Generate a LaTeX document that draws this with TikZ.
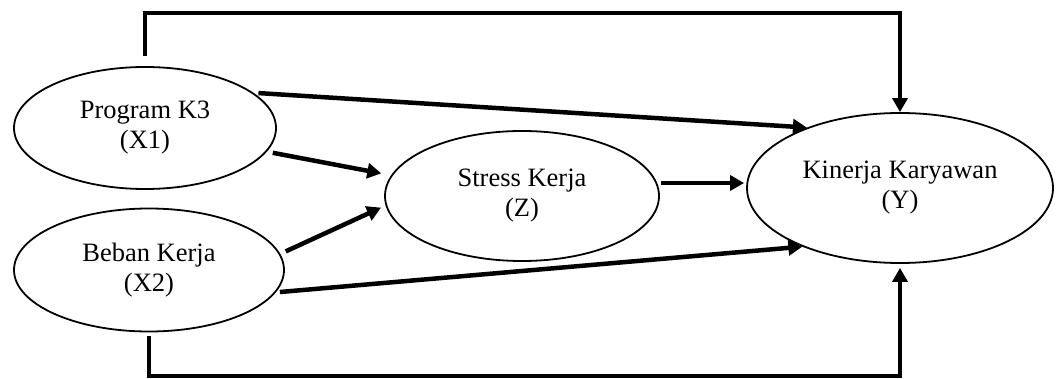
\documentclass[tikz,border=0pt]{standalone}
\usepackage{fontspec}
\setmainfont{Liberation Serif}
\usetikzlibrary{arrows.meta,shapes.geometric}
\begin{document}
\begin{tikzpicture}[x=1pt,y=-1pt,
  var/.style={ellipse,draw,line width=1.8pt,inner sep=0pt,align=center,
    font=\fontsize{26.5}{30}\selectfont},
  conn/.style={line width=4.5pt},
  arr/.style={conn,-{Triangle[length=14pt,width=15pt]}}]
  \useasboundingbox[fill=white] (0,0) rectangle (1057,379);

  % latent variables
  \node[var,minimum width=262pt,minimum height=122pt] (x1) at (145,128) {Program K3\\(X1)};
  \node[var,minimum width=270pt,minimum height=123pt] (x2) at (149,270) {Beban Kerja\\(X2)};
  \node[var,minimum width=274pt,minimum height=130pt] (z)  at (522,196) {Stress Kerja\\(Z)};
  \node[var,minimum width=306pt,minimum height=150pt] (y)  at (900,188) {Kinerja Karyawan\\(Y)};

  \coordinate (top) at (0,13);
  \coordinate (bot) at (0,376);

  % direct effects
  \draw[arr,shorten <=5pt] (x1.18) -- (y.147.7);
  \draw[arr,shorten <=6pt,shorten >=10pt] (x1.-11) -- (z.171);
  \draw[arr,shorten <=6pt,shorten >=5pt] (x2.7.5) -- (z.184.5);
  \draw[arr,shorten <=4pt] (x2.-10) -- (y.211.7);
  \draw[arr,shorten <=1pt,shorten >=2pt] ([yshift=13pt]z.east) -- ([yshift=13pt]z.east -| y.west);

  % outer paths
  \draw[arr] ([yshift=10pt]x1.north) -- (x1.north |- top) -| (y.north);
  \draw[arr] ([yshift=-4pt]x2.south) -- (x2.south |- bot) -| ([yshift=-4pt]y.south);
\end{tikzpicture}
\end{document}
